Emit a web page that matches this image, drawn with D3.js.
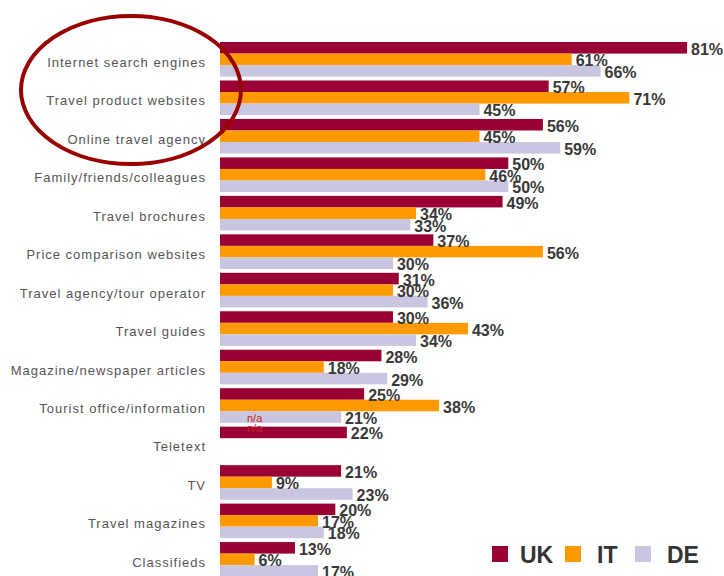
<!DOCTYPE html>
<html>
<head>
<meta charset="utf-8">
<script src="https://cdn.jsdelivr.net/npm/d3@7"></script>
<style>
  html, body { margin: 0; padding: 0; background: #fff; }
  svg { display: block; }
</style>
</head>
<body>
<svg id="chart" width="724" height="576"></svg>
<script>
// Information sources used when planning travel, by country (% of respondents)
const categories = [
  "Internet search engines",
  "Travel product websites",
  "Online travel agency",
  "Family/friends/colleagues",
  "Travel brochures",
  "Price comparison websites",
  "Travel agency/tour operator",
  "Travel guides",
  "Magazine/newspaper articles",
  "Tourist office/information",
  "Teletext",
  "TV",
  "Travel magazines",
  "Classifieds"
];
const seriesNames = ["UK", "IT", "DE"];
const ukValues = [81, 57, 56, 50, 49, 37, 31, 30, 28, 25, 22, 21, 20, 13];
const itValues = [61, 71, 45, 46, 34, 56, 30, 43, 18, 38, null, 9, 17, 6];
const deValues = [66, 45, 59, 50, 33, 30, 36, 34, 29, 21, null, 23, 18, 17];
const naLabel = "n/a";

const colors = { UK: "#990033", IT: "#FF9900", DE: "#C8C6E0" };

const svg = d3.select("#chart");
const width = 724, height = 576;
svg.append("rect").attr("width", width).attr("height", height).attr("fill", "#fff");

const x0 = 220;
const x = d3.scaleLinear().domain([0, 100]).range([x0, x0 + 576.6]);
const y = d3.scaleBand().domain(categories).range([40.1, 578.6])
  .paddingInner(0.1).paddingOuter(0.05);
const ySub = d3.scaleBand().domain(seriesNames).range([0, y.bandwidth()]);

const valuesBy = { UK: ukValues, IT: itValues, DE: deValues };
const rows = [];
categories.forEach((c, i) => {
  seriesNames.forEach(s => rows.push({ cat: c, series: s, value: valuesBy[s][i] }));
});

// Category labels
svg.append("g").selectAll("text").data(categories).join("text")
  .attr("x", 206)
  .attr("y", d => y(d) + y.bandwidth() / 2 + 7.5)
  .attr("text-anchor", "end")
  .attr("font-family", "Liberation Sans, Arial, sans-serif")
  .attr("font-size", 13)
  .attr("letter-spacing", 1)
  .attr("fill", "#555")
  .text(d => d);

// Bars
const present = rows.filter(d => d.value != null);
svg.append("g").selectAll("rect").data(present).join("rect")
  .attr("x", x(0))
  .attr("y", d => y(d.cat) + ySub(d.series))
  .attr("width", d => x(d.value) - x(0))
  .attr("height", ySub.bandwidth())
  .attr("fill", d => colors[d.series]);

// "n/a" markers for the missing Teletext values
const missing = rows.filter(d => d.value == null);
svg.append("g").selectAll("text").data(missing).join("text")
  .attr("x", 247)
  .attr("y", (d, i) => y("Tourist office/information") + ySub("DE") + ySub.bandwidth() - 0.5 + i * 10)
  .attr("font-family", "Liberation Sans, Arial, sans-serif")
  .attr("font-size", 11)
  .attr("fill", "#CC2222")
  .text(naLabel);

// Value labels
svg.append("g").selectAll("text").data(present).join("text")
  .attr("x", d => x(d.value) + 4)
  .attr("y", d => y(d.cat) + ySub(d.series) + ySub.bandwidth() / 2 + 7)
  .attr("font-family", "Liberation Sans, Arial, sans-serif")
  .attr("font-size", 16)
  .attr("font-weight", "bold")
  .attr("fill", "#383838")
  .text(d => d.value + "%");

// Highlight ring around the top three sources
svg.append("ellipse")
  .attr("cx", 131).attr("cy", 90)
  .attr("rx", 110).attr("ry", 74)
  .attr("fill", "none")
  .attr("stroke", "#990000")
  .attr("stroke-width", 4);

// Legend
const legend = svg.append("g");
const legendX = { UK: 492, IT: 565, DE: 635 };
seriesNames.forEach(s => {
  legend.append("rect")
    .attr("x", legendX[s]).attr("y", 546)
    .attr("width", 16).attr("height", 16)
    .attr("fill", colors[s]);
  legend.append("text")
    .attr("x", legendX[s] + (s === "UK" ? 28 : 32)).attr("y", 563)
    .attr("font-family", "Liberation Sans, Arial, sans-serif")
    .attr("font-size", 23)
    .attr("font-weight", "bold")
    .attr("fill", "#333")
    .text(s);
});
</script>
</body>
</html>
